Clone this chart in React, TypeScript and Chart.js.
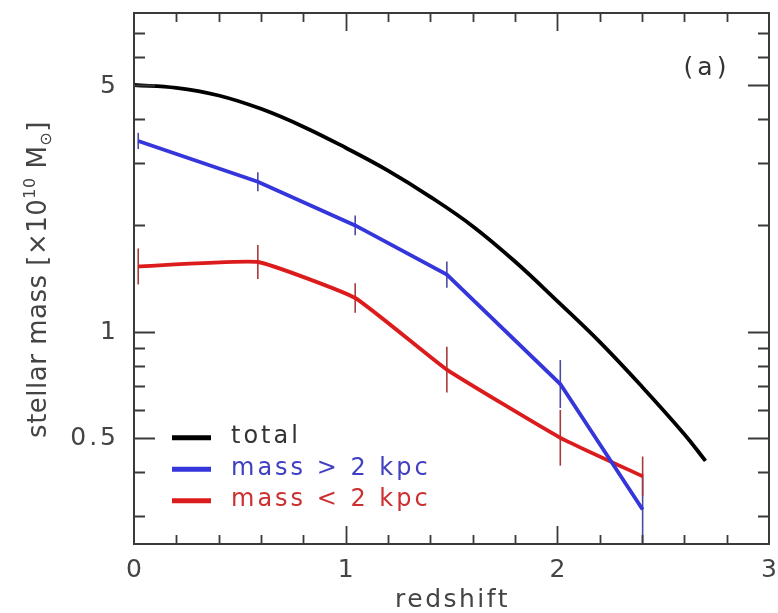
import React, { useEffect, useRef } from "react";
import { Chart, registerables } from "chart.js";

Chart.register(...registerables);

// ---- data ----
const totalZ = [0, 0.2, 0.4, 0.6, 0.8, 1.0, 1.2, 1.4, 1.6, 1.8, 2.0, 2.2, 2.4, 2.6, 2.7];
const totalMass = [5.0, 4.91, 4.67, 4.28, 3.81, 3.32, 2.86, 2.41, 1.99, 1.58, 1.22, 0.935, 0.698, 0.512, 0.43];

const outerZ = [0.02, 0.585, 1.045, 1.478, 2.014, 2.403];
const outerMass = [3.47, 2.66, 2.0, 1.45, 0.71, 0.313];
const outerErrDex = [0.023, 0.027, 0.028, 0.037, 0.068, 0.1];

const innerZ = [0.02, 0.585, 1.045, 1.478, 2.014, 2.403];
const innerMass = [1.53, 1.575, 1.245, 0.78, 0.5, 0.389];
const innerErrDex = [0.051, 0.048, 0.042, 0.065, 0.079, 0.056];

const seriesLabels = ["total", "mass > 2 kpc", "mass < 2 kpc"];

const xTickLabels = [0, 1, 2, 3];
const xMajorTicks = [1, 2];
const xMinorTicks = [0.2, 0.4, 0.6, 0.8, 1.2, 1.4, 1.6, 1.8, 2.2, 2.4, 2.6, 2.8];
const yTickLabels = [0.5, 1, 5];
const yMajorTicks = [0.5, 1, 5];
const yMinorTicks = [0.3, 0.4, 0.6, 0.7, 0.8, 0.9, 2, 3, 4, 6, 7];

const FONT = "'DejaVu Sans', sans-serif";
const AXIS_COLOR = "#3a3a3a";
const TEXT_COLOR = "#444";

const lineColors = ["#000000", "#3535dc", "#dc1c1c"];
const errColors = ["#000000", "#4a4aa0", "#a83a3a"];
const legendTextColors = ["#333333", "#4040c0", "#cc3030"];

export default function App() {
  const ref = useRef<HTMLCanvasElement | null>(null);

  useEffect(() => {
    const canvas = ref.current;
    if (!canvas) return;

    const errorBarPlugin = {
      id: "errorBars",
      beforeDatasetsDraw(chart: any) {
        const { ctx, chartArea, scales } = chart;
        const xs = scales.x;
        const ys = scales.y;
        ctx.save();
        ctx.beginPath();
        ctx.rect(chartArea.left, chartArea.top, chartArea.right - chartArea.left, chartArea.bottom - chartArea.top);
        ctx.clip();
        const sets = [
          { z: outerZ, m: outerMass, e: outerErrDex, c: errColors[1] },
          { z: innerZ, m: innerMass, e: innerErrDex, c: errColors[2] },
        ];
        ctx.lineWidth = 1.6;
        for (const s of sets) {
          ctx.strokeStyle = s.c;
          for (let i = 0; i < s.z.length; i++) {
            const px = xs.getPixelForValue(s.z[i]);
            const f = Math.pow(10, s.e[i]);
            const y1 = ys.getPixelForValue(s.m[i] * f);
            const y2 = ys.getPixelForValue(s.m[i] / f);
            ctx.beginPath();
            ctx.moveTo(px, y1);
            ctx.lineTo(px, y2);
            ctx.stroke();
          }
        }
        ctx.restore();
      },
    };

    const framePlugin = {
      id: "frame",
      afterDraw(chart: any) {
        const { ctx, chartArea, scales } = chart;
        const xs = scales.x;
        const ys = scales.y;
        const { left, right, top, bottom } = chartArea;
        ctx.save();
        ctx.strokeStyle = AXIS_COLOR;
        ctx.lineWidth = 2;
        ctx.strokeRect(left, top, right - left, bottom - top);

        ctx.lineWidth = 1.8;
        const vtick = (v: number, len: number) => {
          const px = Math.round(xs.getPixelForValue(v)) + 0.5;
          ctx.beginPath();
          ctx.moveTo(px, bottom);
          ctx.lineTo(px, bottom - len);
          ctx.moveTo(px, top);
          ctx.lineTo(px, top + len);
          ctx.stroke();
        };
        const htick = (v: number, len: number) => {
          const py = Math.round(ys.getPixelForValue(v)) + 0.5;
          ctx.beginPath();
          ctx.moveTo(left, py);
          ctx.lineTo(left + len, py);
          ctx.moveTo(right, py);
          ctx.lineTo(right - len, py);
          ctx.stroke();
        };
        xMajorTicks.forEach((v) => vtick(v, 18));
        xMinorTicks.forEach((v) => vtick(v, 9));
        yMajorTicks.forEach((v) => htick(v, 21));
        yMinorTicks.forEach((v) => htick(v, 11));

        // tick labels
        ctx.fillStyle = TEXT_COLOR;
        ctx.font = `25px ${FONT}`;
        (ctx as any).letterSpacing = "3px";
        ctx.textAlign = "center";
        ctx.textBaseline = "alphabetic";
        xTickLabels.forEach((v) => {
          ctx.fillText(String(v), xs.getPixelForValue(v) + 1.5, bottom + 33);
        });
        ctx.textAlign = "right";
        ctx.textBaseline = "middle";
        yTickLabels.forEach((v) => {
          ctx.fillText(String(v), left - 15, ys.getPixelForValue(v) + 1);
        });

        // x title
        ctx.textAlign = "center";
        ctx.textBaseline = "alphabetic";
        ctx.font = `25px ${FONT}`;
        (ctx as any).letterSpacing = "2.5px";
        ctx.fillText("redshift", (left + right) / 2 + 1, bottom + 63);

        // y title with super/subscript
        const segs = [
          { t: "stellar mass [×10", s: 26, dy: 0 },
          { t: "10", s: 16, dy: -11 },
          { t: " M", s: 26, dy: 0 },
          { t: "⊙", s: 16, dy: 5 },
          { t: "]", s: 26, dy: 0 },
        ];
        (ctx as any).letterSpacing = "0.5px";
        let total = 0;
        const widths = segs.map((sg) => {
          ctx.font = `${sg.s}px ${FONT}`;
          const w = ctx.measureText(sg.t).width;
          total += w;
          return w;
        });
        ctx.save();
        ctx.translate(46, (top + bottom) / 2 + 1);
        ctx.rotate(-Math.PI / 2);
        ctx.textAlign = "left";
        ctx.textBaseline = "alphabetic";
        let cx = -total / 2;
        segs.forEach((sg, i) => {
          ctx.font = `${sg.s}px ${FONT}`;
          ctx.fillText(sg.t, cx, sg.dy);
          cx += widths[i];
        });
        ctx.restore();

        // panel label
        ctx.font = `25px ${FONT}`;
        (ctx as any).letterSpacing = "4px";
        ctx.textAlign = "center";
        ctx.textBaseline = "middle";
        ctx.fillStyle = "#333";
        ctx.fillText("(a)", 707, 68);

        // legend
        const legY0 = ys.getPixelForValue(0.5);
        const legStep = 31.5;
        ctx.font = `24px ${FONT}`;
        (ctx as any).letterSpacing = "3px";
        ctx.textAlign = "left";
        ctx.textBaseline = "middle";
        seriesLabels.forEach((lab, i) => {
          const y = legY0 + i * legStep;
          ctx.strokeStyle = lineColors[i];
          ctx.lineWidth = 5;
          ctx.beginPath();
          ctx.moveTo(left + 38, y);
          ctx.lineTo(left + 77, y);
          ctx.stroke();
          ctx.fillStyle = legendTextColors[i];
          ctx.fillText(lab, left + 97, y - 1);
        });
        ctx.restore();
      },
    };

    const toPts = (z: number[], m: number[]) => z.map((v, i) => ({ x: v, y: m[i] }));

    const chart = new Chart(canvas, {
      type: "line",
      data: {
        datasets: [
          {
            label: seriesLabels[0],
            data: toPts(totalZ, totalMass),
            borderColor: lineColors[0],
            borderWidth: 3.8,
            pointRadius: 0,
            tension: 0.4,
            fill: false,
          },
          {
            label: seriesLabels[1],
            data: toPts(outerZ, outerMass),
            borderColor: lineColors[1],
            borderWidth: 3.8,
            pointRadius: 0,
            tension: 0,
            fill: false,
          },
          {
            label: seriesLabels[2],
            data: toPts(innerZ, innerMass),
            borderColor: lineColors[2],
            borderWidth: 3.8,
            pointRadius: 0,
            tension: 0.12,
            fill: false,
          },
        ],
      },
      options: {
        animation: false,
        responsive: false,
        maintainAspectRatio: false,
        layout: { padding: { left: 134, right: 9, top: 13, bottom: 69 } },
        plugins: {
          legend: { display: false },
          tooltip: { enabled: false },
          title: { display: false },
        },
        scales: {
          x: { type: "linear", min: 0, max: 3, display: false },
          y: { type: "logarithmic", min: 0.25, max: 8, display: false },
        },
      },
      plugins: [errorBarPlugin, framePlugin],
    } as any);

    return () => chart.destroy();
  }, []);

  return (
    <div style={{ position: "fixed", left: 0, top: 0, width: 778, height: 613, background: "#fff" }}>
      <canvas ref={ref} width={778} height={613} style={{ display: "block" }} />
    </div>
  );
}
